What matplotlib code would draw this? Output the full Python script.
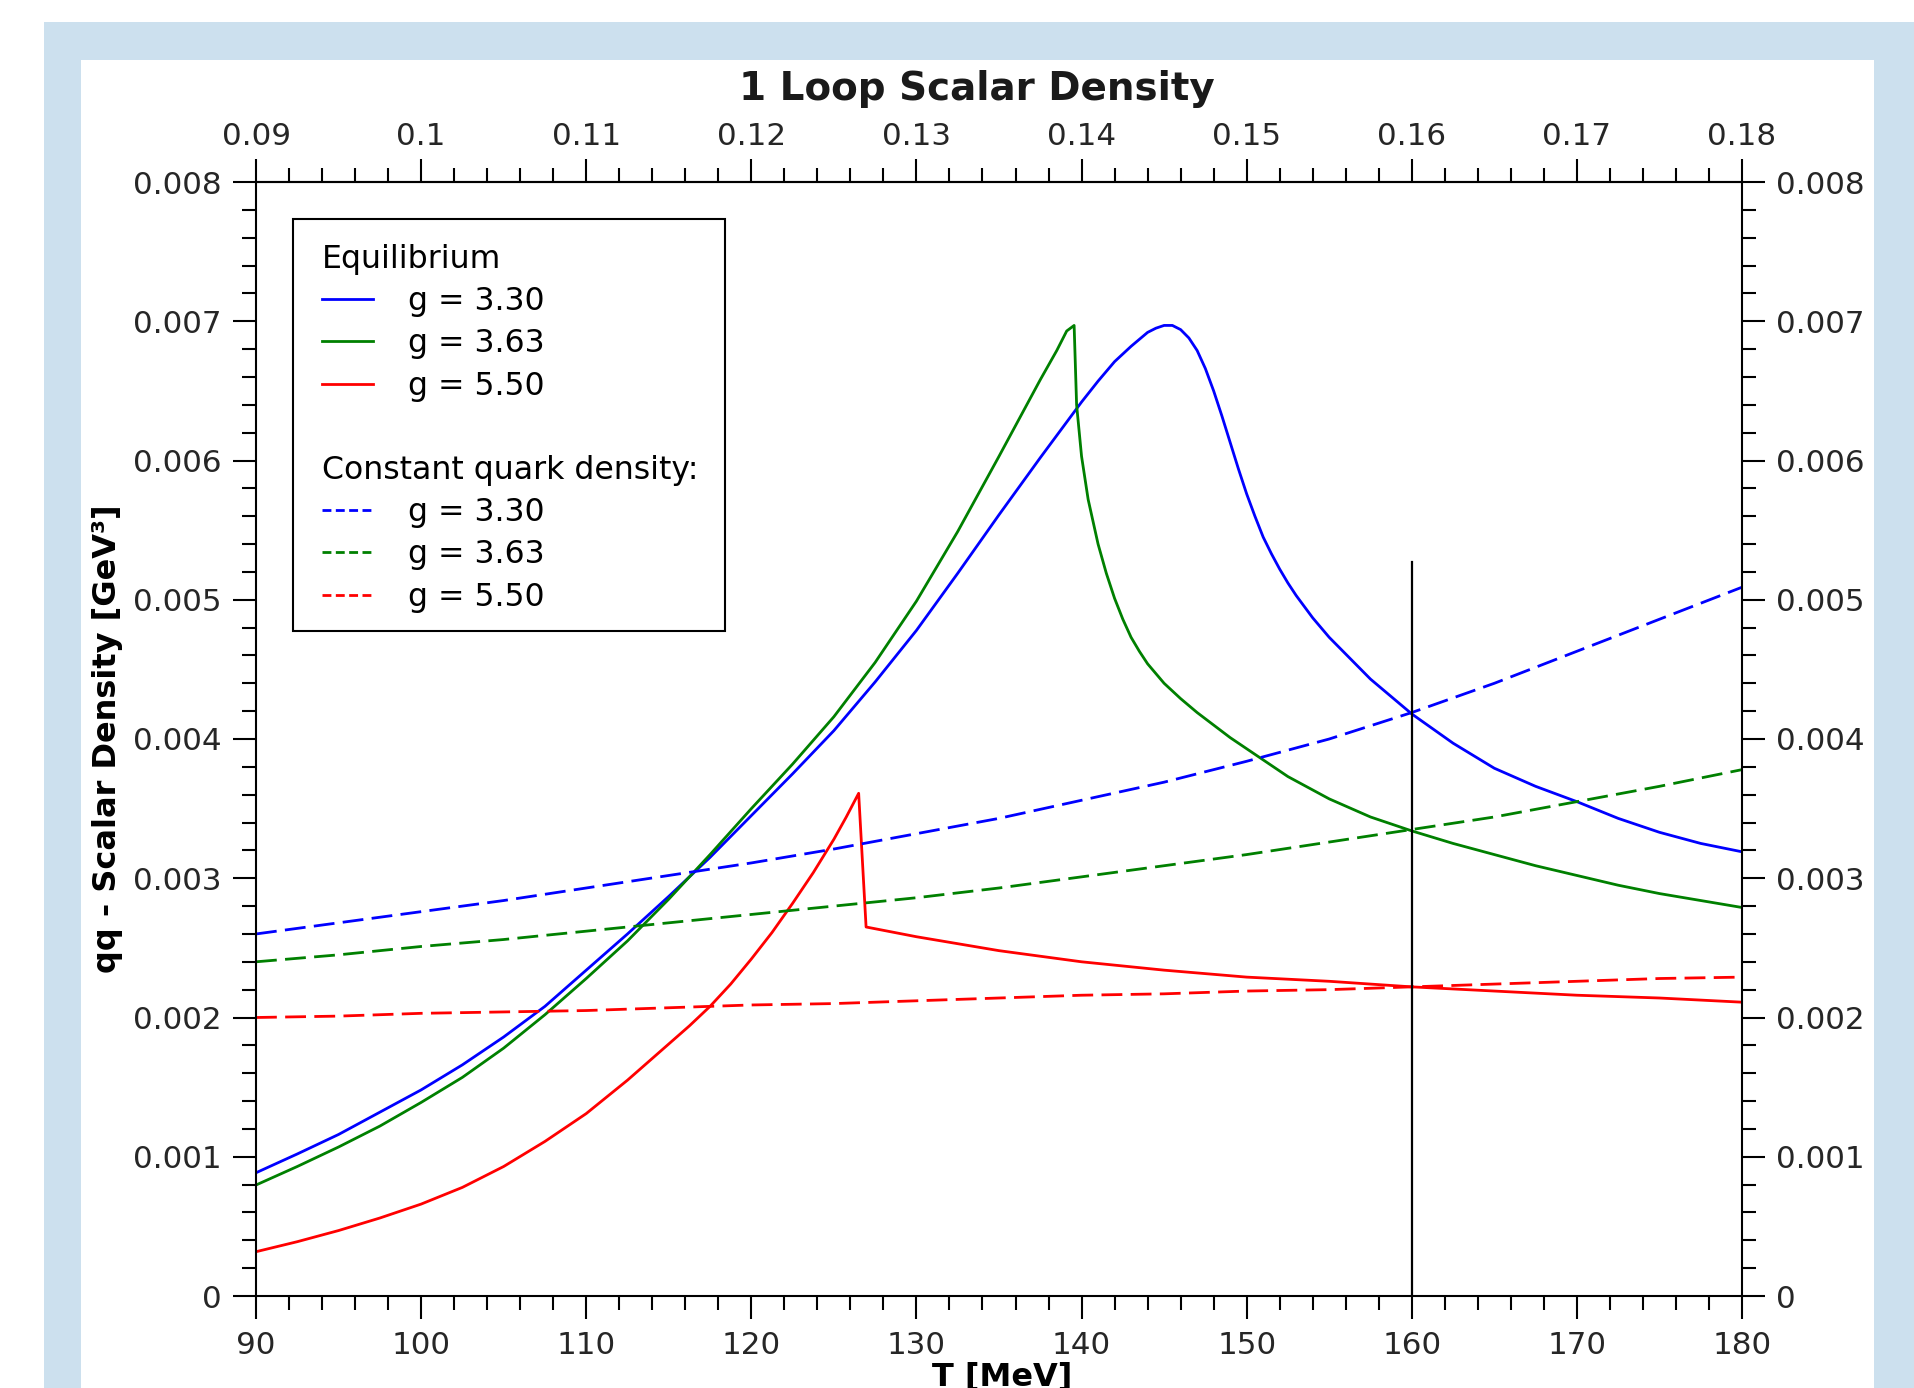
import matplotlib
matplotlib.use("Agg")
import matplotlib.pyplot as plt
from matplotlib.lines import Line2D
from matplotlib.patches import Rectangle
from matplotlib.ticker import MultipleLocator, FixedLocator, FuncFormatter

# ---------------- data ----------------
T_blue_eq = [90, 92.5, 95, 97.5, 100, 102.5, 105, 107.5, 110, 112.5, 115, 117.5,
             120, 122.5, 125, 127.5, 130, 132.5, 135, 137.5, 140, 141, 142, 143,
             143.5, 144, 144.5, 145, 145.5, 146, 146.5, 147, 147.5, 148, 148.5,
             149, 149.5, 150, 150.5, 151, 151.5, 152, 152.5, 153, 154, 155, 156,
             157.5, 160, 162.5, 165, 167.5, 170, 172.5, 175, 177.5, 180]
S_blue_eq = [0.000885, 0.00102, 0.00116, 0.00132, 0.00148, 0.00166, 0.00186, 0.00208,
             0.00234, 0.00260, 0.00287, 0.00315, 0.00345, 0.00375, 0.00406, 0.00441,
             0.00478, 0.00519, 0.00561, 0.00602, 0.00642, 0.00657, 0.00671, 0.00682,
             0.00687, 0.00692, 0.00695, 0.00697, 0.00697, 0.00694, 0.00688, 0.00679,
             0.00666, 0.00650, 0.00632, 0.00613, 0.00594, 0.00576, 0.00560, 0.00545,
             0.00533, 0.00522, 0.00512, 0.00503, 0.00487, 0.00473, 0.00461, 0.00443,
             0.00418, 0.00397, 0.00379, 0.00366, 0.00355, 0.00343, 0.00333, 0.00325,
             0.00319]

T_green_eq = [90, 92.5, 95, 97.5, 100, 102.5, 105, 107.5, 110, 112.5, 115, 117.5,
              120, 122.5, 125, 127.5, 130, 132.5, 135, 137.5, 138.5, 139.1, 139.55,
              139.7, 140.0, 140.4, 141, 141.5, 142, 142.5, 143, 143.5, 144, 145, 146,
              147, 148, 149, 150, 152.5, 155, 157.5, 160, 162.5, 165, 167.5, 170,
              172.5, 175, 177.5, 180]
S_green_eq = [0.000797, 0.00093, 0.00107, 0.00122, 0.00139, 0.00157, 0.00178, 0.00202,
              0.00228, 0.00255, 0.00285, 0.00317, 0.00350, 0.00382, 0.00416, 0.00455,
              0.00499, 0.00549, 0.00603, 0.00658, 0.00679, 0.00693, 0.00697, 0.00640,
              0.00603, 0.00572, 0.00540, 0.00519, 0.00501, 0.00486, 0.00473, 0.00463,
              0.00454, 0.00440, 0.00429, 0.00419, 0.00410, 0.00401, 0.00393, 0.00373,
              0.00357, 0.00344, 0.00334, 0.00325, 0.00317, 0.00309, 0.00302, 0.00295,
              0.00289, 0.00284, 0.00279]

T_red_eq = [90, 92.5, 95, 97.5, 100, 102.5, 105, 107.5, 110, 111.25, 112.5, 113.75,
            115, 116.25, 117.5, 118.75, 120, 121.25, 122.5, 123.75, 125, 125.75,
            126.5, 126.95, 130, 135, 140, 145, 150, 155, 160, 165, 170, 175, 180]
S_red_eq = [0.000318, 0.00039, 0.00047, 0.00056, 0.00066, 0.00078, 0.00093, 0.00111,
            0.00131, 0.00143, 0.00155, 0.00168, 0.00181, 0.00194, 0.00208, 0.00224,
            0.00242, 0.00261, 0.00282, 0.00304, 0.00328, 0.00344, 0.00361, 0.00265,
            0.00258, 0.00248, 0.00240, 0.00234, 0.00229, 0.00226, 0.00222, 0.00219,
            0.00216, 0.00214, 0.00211]

T_const = [90, 95, 100, 105, 110, 115, 120, 125, 130, 135, 140, 145, 150, 155, 160,
           165, 170, 175, 180]
S_blue_const = [0.00260, 0.00268, 0.00276, 0.00284, 0.00293, 0.00302, 0.00311, 0.00321,
                0.00332, 0.00343, 0.00356, 0.00369, 0.00384, 0.00400, 0.00419, 0.00440,
                0.00463, 0.00486, 0.00509]
S_green_const = [0.00240, 0.00245, 0.00251, 0.00256, 0.00262, 0.00268, 0.00274, 0.00280,
                 0.00286, 0.00293, 0.00301, 0.00309, 0.00317, 0.00326, 0.00335, 0.00344,
                 0.00355, 0.00366, 0.00378]
S_red_const = [0.00200, 0.00201, 0.00203, 0.00204, 0.00205, 0.00207, 0.00209, 0.00210,
               0.00212, 0.00214, 0.00216, 0.00217, 0.00219, 0.00220, 0.00222, 0.00224,
               0.00226, 0.00228, 0.00229]

marker_T = 160.0
marker_top = 0.00527

top_ticks_GeV = [0.09, 0.10, 0.11, 0.12, 0.13, 0.14, 0.15, 0.16, 0.17, 0.18]
g_labels = ["g = 3.30", "g = 3.63", "g = 5.50"]
series_colors = ["blue", "green", "red"]

# ---------------- figure ----------------
W, H = 1914, 1388
fig = plt.figure(figsize=(W / 100, H / 100), dpi=100)
fig.patch.set_facecolor("white")
frame_color = "#cce0ee"
fig.add_artist(Rectangle((44 / W, 0), 1, 1 - 22 / H, transform=fig.transFigure,
                         facecolor=frame_color, edgecolor="none", zorder=-10))
fig.add_artist(Rectangle((81 / W, 0), (1874 - 81) / W, 1 - 60 / H, transform=fig.transFigure,
                         facecolor="white", edgecolor="none", zorder=-9))

ax = fig.add_axes([256 / W, 1 - 1296 / H, 1486 / W, 1114 / H])

lw = 2.0
dash = (0, (7.5, 3.0))
ax.plot(T_blue_eq, S_blue_eq, color="blue", lw=lw)
ax.plot(T_green_eq, S_green_eq, color="green", lw=lw)
ax.plot(T_red_eq, S_red_eq, color="red", lw=lw)
ax.plot(T_const, S_blue_const, color="blue", lw=lw, linestyle=dash)
ax.plot(T_const, S_green_const, color="green", lw=lw, linestyle=dash)
ax.plot(T_const, S_red_const, color="red", lw=lw, linestyle=dash)
ax.plot([marker_T, marker_T], [0, marker_top], color="black", lw=1.6)

ax.set_xlim(90, 180)
ax.set_ylim(0, 0.008)

fmt = FuncFormatter(lambda v, p: f"{v:g}")
ax.xaxis.set_major_locator(MultipleLocator(10))
ax.xaxis.set_minor_locator(MultipleLocator(2))
ax.yaxis.set_major_locator(MultipleLocator(0.001))
ax.yaxis.set_minor_locator(MultipleLocator(0.0002))
ax.yaxis.set_major_formatter(fmt)

tick_color = "#262626"
tick_fs = 22.3
ax.tick_params(which="major", direction="out", length=16.5, width=1.5,
               labelsize=tick_fs, labelcolor=tick_color)
ax.tick_params(which="minor", direction="out", length=10, width=1.5)
ax.tick_params(axis="y", which="both", left=True, right=True,
               labelleft=True, labelright=True, pad=8)
ax.tick_params(axis="x", which="both", bottom=True, top=False, pad=9)
for s in ax.spines.values():
    s.set_linewidth(1.5)

sec = ax.secondary_xaxis("top", functions=(lambda t: t / 1000.0, lambda g: g * 1000.0))
sec.xaxis.set_major_locator(FixedLocator(top_ticks_GeV))
sec.xaxis.set_minor_locator(MultipleLocator(0.002))
sec.xaxis.set_major_formatter(fmt)
sec.tick_params(which="major", direction="out", length=16.5, width=1.5,
                labelsize=tick_fs, labelcolor=tick_color, pad=6)
sec.tick_params(which="minor", direction="out", length=10, width=1.5)
sec.spines["top"].set_linewidth(1.5)

# texts
fig.text(977 / W, 1 - 100 / H, "1 Loop Scalar Density", ha="center", va="baseline",
         fontsize=28, fontweight="bold", color="#1a1a1a")
fig.text(108 / W, 1 - 739 / H, "qq - Scalar Density [GeV³]", rotation=90,
         ha="center", va="center", fontsize=23, fontweight="bold", color="black")
fig.text(1002 / W, 1 - 1362 / H, "T [MeV]", ha="center", va="top",
         fontsize=23, fontweight="bold", color="black")

# legend
fs = 22.7
fs_px = fs * 100 / 72
eq_handles = [Line2D([], [], color=c, lw=lw) for c in series_colors]
cq_handles = [Line2D([], [], color=c, lw=lw, linestyle=(0, (3.2, 1.6))) for c in series_colors]
blank = Line2D([], [], color="none")
handles = [blank] + eq_handles + [blank, blank] + cq_handles
labels = ["Equilibrium"] + g_labels + [" ", "Constant quark density:"] + g_labels
hl, htp = 51 / fs_px, 35 / fs_px
leg = ax.legend(handles, labels, loc="upper left",
                bbox_to_anchor=((322 - 256) / 1486, 1 - (244 - 182) / 1114),
                borderpad=0, borderaxespad=0, frameon=False, fontsize=fs,
                handlelength=hl, handletextpad=htp, labelspacing=0.355)
shift = (hl + htp) * fs_px
for t in leg.get_texts():
    t.set_color("black")
    if t.get_text() in ("Equilibrium", "Constant quark density:"):
        t.set_position((-shift, 0))
ax.add_patch(Rectangle(((293 - 256) / 1486, 1 - (631 - 182) / 1114), 432 / 1486, 412 / 1114,
                       transform=ax.transAxes, facecolor="white", edgecolor="black",
                       lw=1.5, zorder=4))

fig.savefig("out.png", dpi=100)
